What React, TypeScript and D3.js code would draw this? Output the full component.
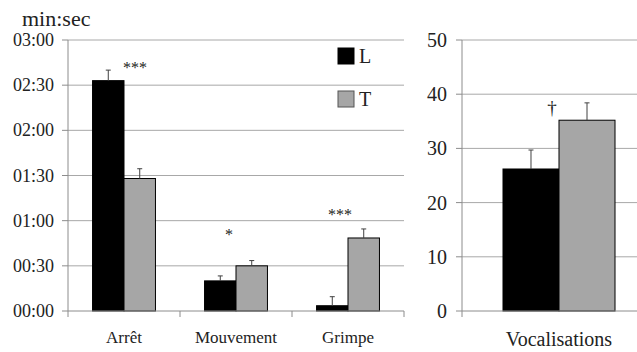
import React from 'react'
import * as d3 from 'd3'

// durées en secondes (min:sec)
const categories = ['Arrêt', 'Mouvement', 'Grimpe']
const groups = ['L', 'T']
const meanL = [153, 20, 3.5]
const errL = [7, 3.3, 6]
const meanT = [88, 30, 48.5]
const errT = [6.5, 3.5, 6]
const sigLabels = ['***', '*', '***']
const sigLevels = [164.5, 53.5, 67]
const timeTicks = [0, 30, 60, 90, 120, 150, 180]

const vocCategory = ['Vocalisations']
const vocMean = [26.2, 35.2]
const vocErr = [3.5, 3.2]
const vocSig = '†'
const vocSigLevel = 37.6
const vocTicks = [0, 10, 20, 30, 40, 50]

const FONT = '"Liberation Serif", "Times New Roman", serif'
const fills: Record<string, string> = { L: '#000000', T: '#a6a6a6' }
const gridColor = '#a8a8a8'
const axisColor = '#8c8c8c'

function fmt (s: number) {
  const m = Math.floor(s / 60)
  const r = s % 60
  return String(m).padStart(2, '0') + ':' + String(r).padStart(2, '0')
}

function ErrorBar ({ x, y0, y1 }: { x: number, y0: number, y1: number }) {
  return (
    <g stroke='#404040' strokeWidth={1}>
      <line x1={x} x2={x} y1={y0} y2={y1} />
      <line x1={x - 2.5} x2={x + 2.5} y1={y1} y2={y1} />
    </g>
  )
}

export default function App () {
  const top = 40
  const bottom = 311

  // left chart
  const x = d3.scaleBand().domain(categories).range([68, 404]).paddingInner(0).paddingOuter(0)
  const xs = d3.scaleBand().domain(groups).range([0, x.bandwidth()]).paddingInner(0).paddingOuter(0.78)
  const y = d3.scaleLinear().domain([0, 180]).range([bottom, top])
  const series = [
    { key: 'L', mean: meanL, err: errL },
    { key: 'T', mean: meanT, err: errT }
  ]
  const sigDx = [11, -7, -8]

  // right chart
  const x2 = d3.scaleBand().domain(vocCategory).range([462, 656])
  const xs2 = d3.scaleBand().domain(groups).range([0, x2.bandwidth()]).paddingOuter(0.732)
  const y2 = d3.scaleLinear().domain([0, 50]).range([bottom, top])

  const bandEdges = categories.map(c => x(c) as number).concat([x.range()[1]])

  return (
    <svg width={637} height={352} style={{ position: 'absolute', left: 0, top: 0, background: '#fff' }} fontFamily={FONT}>
      {/* left chart gridlines */}
      {timeTicks.map(t => (
        <g key={'g' + t}>
          {t > 0 && <line x1={68} x2={404} y1={y(t)} y2={y(t)} stroke={gridColor} />}
          <line x1={62} x2={68} y1={y(t)} y2={y(t)} stroke={axisColor} />
          <text x={54} y={y(t) + 6} fontSize={18} textAnchor='end' fill='#222'>{fmt(t)}</text>
        </g>
      ))}
      <text x={22} y={26} fontSize={22} fill='#222'>min:sec</text>
      {series.map(s => categories.map((c, i) => {
        const bx = (x(c) as number) + (xs(s.key) as number)
        const bw = xs.bandwidth()
        return (
          <g key={s.key + c}>
            <rect x={bx} y={y(s.mean[i])} width={bw} height={bottom - y(s.mean[i])} fill={fills[s.key]} stroke='#000' strokeWidth={1} />
            <ErrorBar x={bx + bw / 2} y0={y(s.mean[i])} y1={y(s.mean[i] + s.err[i])} />
          </g>
        )
      }))}
      <line x1={68} x2={68} y1={top} y2={bottom} stroke={axisColor} />
      <line x1={68} x2={404} y1={bottom} y2={bottom} stroke={axisColor} />
      {bandEdges.map(e => (
        <line key={'t' + e} x1={e} x2={e} y1={bottom} y2={bottom + 6} stroke={axisColor} />
      ))}
      {categories.map((c, i) => (
        <g key={'l' + c}>
          <text x={(x(c) as number) + x.bandwidth() / 2} y={343} fontSize={17} textAnchor='middle' fill='#222'>{c}</text>
          <text x={(x(c) as number) + x.bandwidth() / 2 + sigDx[i]} y={y(sigLevels[i]) + 10} fontSize={16} textAnchor='middle' fill='#222'>{sigLabels[i]}</text>
        </g>
      ))}
      {/* legend */}
      {groups.map((g, i) => (
        <g key={'lg' + g}>
          <rect x={338} y={48 + i * 43} width={16} height={16} fill={fills[g]} stroke={g === 'T' ? '#555' : '#000'} />
          <text x={359} y={63 + i * 43} fontSize={20} fill='#222'>{g}</text>
        </g>
      ))}

      {/* right chart */}
      {vocTicks.map(t => (
        <g key={'v' + t}>
          {t > 0 && <line x1={462} x2={637} y1={y2(t)} y2={y2(t)} stroke={gridColor} />}
          <line x1={456} x2={462} y1={y2(t)} y2={y2(t)} stroke={axisColor} />
          <text x={447} y={y2(t) + 7} fontSize={20} textAnchor='end' fill='#222'>{t}</text>
        </g>
      ))}
      {groups.map((g, i) => {
        const bx = (x2('Vocalisations') as number) + (xs2(g) as number)
        const bw = xs2.bandwidth()
        return (
          <g key={'vb' + g}>
            <rect x={bx} y={y2(vocMean[i])} width={bw} height={bottom - y2(vocMean[i])} fill={fills[g]} stroke='#000' strokeWidth={1} />
            <ErrorBar x={bx + bw / 2} y0={y2(vocMean[i])} y1={y2(vocMean[i] + vocErr[i])} />
          </g>
        )
      })}
      <line x1={462} x2={462} y1={top} y2={bottom} stroke={axisColor} />
      <line x1={462} x2={637} y1={bottom} y2={bottom} stroke={axisColor} />
      <line x1={462} x2={462} y1={bottom} y2={bottom + 6} stroke={axisColor} />
      <text x={(x2('Vocalisations') as number) + x2.bandwidth() / 2} y={346} fontSize={20} textAnchor='middle' fill='#222'>Vocalisations</text>
      <text x={552} y={y2(vocSigLevel) + 7} fontSize={19} textAnchor='middle' fill='#222'>{vocSig}</text>
    </svg>
  )
}
